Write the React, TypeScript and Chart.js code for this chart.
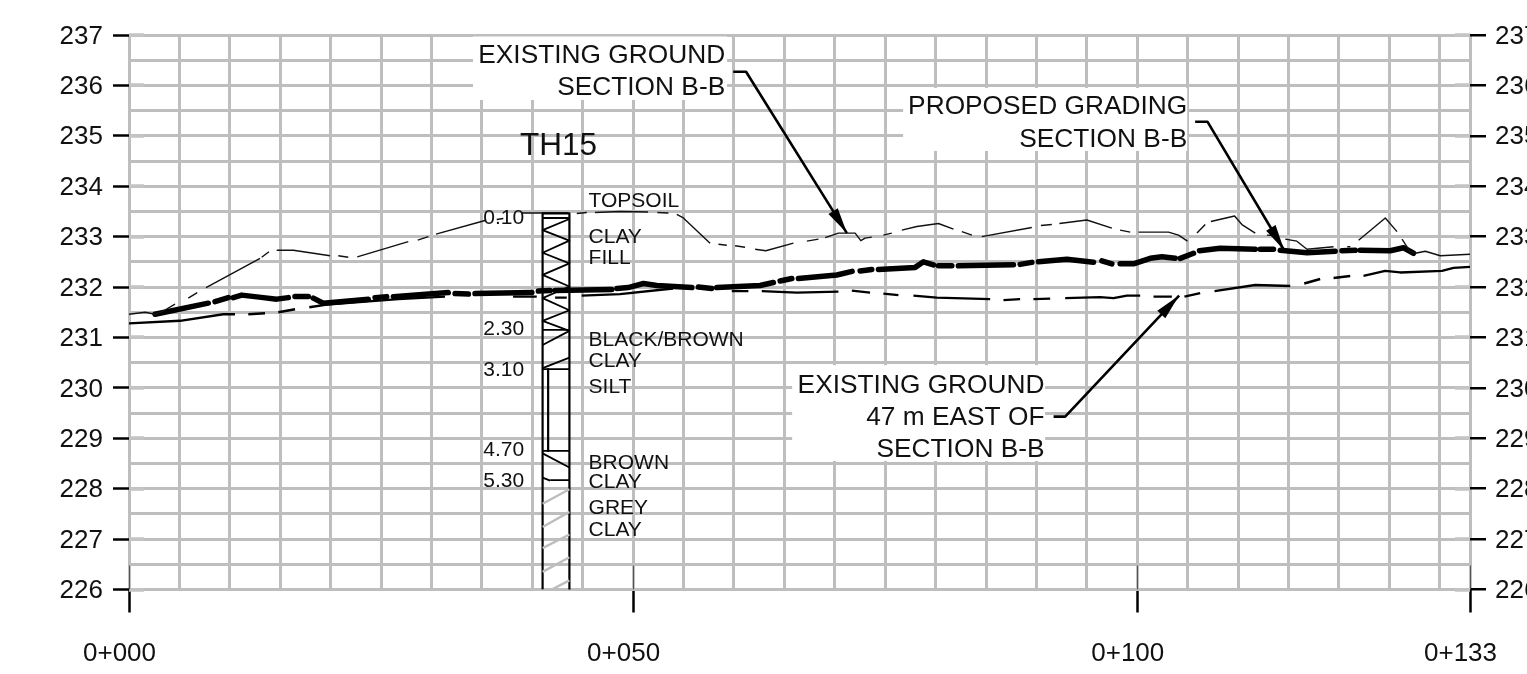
import React, { useEffect, useRef } from "react";
import { Chart, registerables } from "chart.js";

Chart.register(...registerables);

const FONT = '"Liberation Sans", Arial, sans-serif';

const stationMin = 0;
const stationMax = 133;
const elevationMin = 226;
const elevationMax = 237;
const labelledStations = [0, 50, 100, 133];
const gridStations = [0, 5, 10, 15, 20, 25, 30, 35, 40, 45, 50, 55, 60, 65, 70, 75, 80, 85, 90, 95, 100, 105, 110, 115, 120, 125, 130, 133];

// Existing ground, section B-B (null = gap in the CAD dash pattern)
const sectionStations = [0, 1.6, 2.6, 3.37, 4.56, null, 5.88, 6.77, null, 7.64, 13.0, null, 13.16, 13.88, null, 14.65, 16.3, 19.94, null, 20.76, 21.75, null, 22.64, 27.7, null, 28.64, 29.69, null, 30.45, 35.31, null, 36.47, 37.13, null, 38.95, 43.55, null, 44.41, 45.4, null, 46.22, 48.7, 51.48, null, 52.4, 53.5, null, 54.33, 54.98, 57.63, null, 58.46, 59.29, null, 60.11, 61.1, null, 62.1, 63.16, 65.9, null, 67.23, 68.38, null, 69.04, 70.36, 72.02, 72.58, 73.0, 73.67, null, 74.82, 75.65, null, 76.65, 78.14, 80.28, 81.77, null, 82.6, 83.6, null, 84.58, 89.54, null, 90.44, 91.53, null, 92.28, 95.0, 97.48, null, 98.3, 99.3, null, 100.12, 103.1, 104.09, 104.98, null, 105.92, 106.74, null, 107.3, 109.65, 110.38, 111.7, null, 112.86, 113.52, null, 114.68, 115.83, 116.83, 119.47, null, 120.83, 121.13, null, 121.95, 124.6, 125.76, null, 126.26, 127.07, 127.57, 128.56, 130.06, 133];
const sectionElevations = [231.46, 231.5, 231.46, 231.52, 231.66, null, 231.78, 231.89, null, 231.99, 232.57, null, 232.59, 232.7, null, 232.73, 232.73, 232.62, null, 232.62, 232.59, null, 232.6, 232.9, null, 232.93, 233.0, null, 233.05, 233.32, null, 233.34, 233.36, null, 233.47, 233.47, null, 233.46, 233.48, null, 233.48, 233.5, 233.49, null, 233.48, 233.47, null, 233.44, 233.37, 232.87, null, 232.85, 232.83, null, 232.82, 232.79, null, 232.75, 232.72, 232.87, null, 232.91, 232.95, null, 232.98, 233.07, 233.07, 232.92, 232.97, 232.99, null, 233.03, 233.07, null, 233.13, 233.2, 233.26, 233.15, null, 233.1, 233.03, null, 233.0, 233.18, null, 233.22, 233.24, null, 233.26, 233.33, 233.17, null, 233.13, 233.09, null, 233.09, 233.09, 233.03, 232.91, null, 233.07, 233.24, null, 233.3, 233.41, 233.24, 233.07, null, 233.03, 233.02, null, 232.95, 232.91, 232.75, 232.8, null, 232.8, 232.8, null, 232.93, 233.37, 233.1, null, 232.95, 232.7, 232.67, 232.71, 232.62, 232.65];

// Existing ground, 47 m east of section B-B
const eastStations = [0, 5.06, 9.35, 10.51, null, 11.83, 13.49, null, 14.81, 16.47, null, 17.88, 19.94, 26.71, 31.34, null, 38.09, 40.44, null, 42.26, 43.42, null, 44.9, 48.7, 53.96, null, 59.78, 61.43, null, 62.76, 66.23, 70.36, null, 71.69, 73.5, null, 74.82, 76.31, null, 77.8, 80.12, 85.41, null, 86.73, 88.38, null, 89.7, 91.36, null, 92.85, 96.32, 97.64, 98.97, 100.29, null, 101.61, 103.43, null, 104.68, 106.24, null, 107.66, 111.7, 115.17, null, 116.56, 118.14, null, 119.47, 121.12, null, 122.44, 124.59, 126.08, 130.22, 131.37, 133];
const eastElevations = [231.28, 231.33, 231.46, 231.46, null, 231.46, 231.48, null, 231.5, 231.56, null, 231.6, 231.66, 231.76, 231.81, null, 231.81, 231.81, null, 231.79, 231.79, null, 231.83, 231.86, 231.97, null, 231.92, 231.92, null, 231.92, 231.89, 231.91, null, 231.93, 231.89, null, 231.87, 231.84, null, 231.83, 231.79, 231.76, null, 231.74, 231.76, null, 231.76, 231.77, null, 231.78, 231.8, 231.78, 231.83, 231.83, null, 231.81, 231.81, null, 231.81, 231.88, null, 231.92, 232.04, 232.02, null, 232.07, 232.16, null, 232.18, 232.22, null, 232.22, 232.32, 232.29, 232.32, 232.38, 232.4];

// Proposed grading, section B-B
const gradingStations = [2.58, 7.86, null, 8.53, 9.85, null, 10.34, 11.18, 13.32, 14.65, 15.8, null, 16.46, 17.78, null, 18.28, 19.27, 23.74, null, 24.4, 25.56, null, 26.22, 31.67, null, 32.34, 33.66, null, 34.32, 39.95, null, 40.6, 41.76, null, 42.26, 47.88, null, 48.4, 49.5, 51.02, 52.35, 55.82, null, 56.47, 57.8, null, 58.3, 62.59, 63.91, null, 64.58, 65.74, null, 66.39, 70.2, 71.72, null, 72.51, 73.67, null, 74.33, 77.97, 78.79, 79.78, null, 80.28, 81.61, null, 82.26, 87.72, null, 88.38, 89.54, null, 90.2, 93.02, 95.66, null, 96.49, 97.48, null, 98.3, 99.63, 101.28, 102.44, 103.76, null, 104.26, 105.58, null, 106.17, 108.22, 111.7, null, 112.19, 113.51, null, 114.18, 116.83, 119.63, null, 120.3, 121.62, null, 122.11, 125.09, 126.41, 127.4];
const gradingElevations = [231.46, 231.68, null, 231.71, 231.79, null, 231.79, 231.84, 231.79, 231.76, 231.79, null, 231.81, 231.81, null, 231.78, 231.68, 231.76, null, 231.79, 231.81, null, 231.81, 231.89, null, 231.87, 231.86, null, 231.87, 231.89, null, 231.92, 231.93, null, 231.93, 231.95, null, 231.97, 231.99, 232.07, 232.03, 231.99, null, 232.0, 231.97, null, 231.99, 232.03, 232.09, null, 232.12, 232.17, null, 232.17, 232.24, 232.31, null, 232.32, 232.35, null, 232.35, 232.39, 232.5, 232.44, null, 232.42, 232.42, null, 232.42, 232.44, null, 232.45, 232.49, null, 232.5, 232.55, 232.49, null, 232.52, 232.46, null, 232.46, 232.46, 232.57, 232.6, 232.57, null, 232.57, 232.67, null, 232.72, 232.77, 232.75, null, 232.75, 232.75, null, 232.73, 232.68, 232.71, null, 232.72, 232.73, null, 232.73, 232.72, 232.78, 232.67];

// Borehole TH15
const holeLeft = 41.02;
const holeRight = 43.68;
const holeInner = 41.57;
const holeSmall = 41.77;
const holeCut = 41.93;
const holeFrameStations = [holeLeft, holeLeft, holeRight, holeRight, null, holeInner, holeInner];
const holeFrameElevations = [226, 233.46, 233.46, 226, null, 230.37, 228.75];
const layerStations = [holeLeft, holeRight, null, holeLeft, holeRight, null, holeLeft, holeRight, null, holeLeft, holeRight, null, holeSmall, holeRight];
const layerElevations = [233.37, 233.37, null, 231.15, 231.15, null, 230.37, 230.37, null, 228.75, 228.75, null, 228.17, 228.17];
const zigzagStations = [holeRight, holeLeft, holeRight, holeLeft, holeRight, holeLeft, holeRight, holeLeft, holeRight, holeLeft, holeRight, holeLeft, null, holeRight, holeLeft, null, holeLeft, holeRight, null, holeLeft, holeSmall];
const zigzagElevations = [233.35, 233.13, 232.92, 232.68, 232.47, 232.24, 232.01, 231.78, 231.54, 231.33, 231.13, 230.85, null, 230.6, 230.39, null, 228.7, 228.42, null, 228.22, 228.16];
const greyHatchStations = [holeLeft, holeRight, null, holeLeft, holeRight, null, holeLeft, holeRight, null, holeLeft, holeRight, null, holeCut, holeRight];
const greyHatchElevations = [227.7, 227.99, null, 227.24, 227.54, null, 226.82, 227.09, null, 226.35, 226.64, null, 226.0, 226.18];

// Leaders: station / elevation, the last point is the arrow tip
const leaderStations = [
  [59.93, 61.2, 71.2],
  [105.74, 106.96, 114.57],
  [91.7, 92.85, 104.15],
];
const leaderElevations = [
  [236.27, 236.27, 233.07],
  [235.28, 235.28, 232.73],
  [229.43, 229.43, 231.83],
];

// White halo behind the callouts: station0, elevation0, station1, elevation1
const calloutMasks = [
  [34.12, 236.97, 59.32, 235.71],
  [76.78, 235.95, 104.95, 234.7],
  [65.77, 230.45, 90.86, 228.55],
];
// text, station, elevation
const calloutTexts: [string, number, number][] = [
  ["EXISTING GROUND", 59.13, 236.58],
  ["SECTION B-B", 59.13, 235.95],
  ["PROPOSED GRADING", 104.95, 235.57],
  ["SECTION B-B", 104.95, 234.93],
  ["EXISTING GROUND", 90.8, 230.05],
  ["47 m EAST OF", 90.8, 229.41],
  ["SECTION B-B", 90.8, 228.78],
];
const soilTexts: [string, number, number][] = [
  ["TOPSOIL", 45.58, 233.71],
  ["CLAY", 45.58, 232.98],
  ["FILL", 45.58, 232.58],
  ["BLACK/BROWN", 45.58, 230.94],
  ["CLAY", 45.58, 230.52],
  ["SILT", 45.58, 230.02],
  ["BROWN", 45.58, 228.51],
  ["CLAY", 45.58, 228.12],
  ["GREY", 45.58, 227.62],
  ["CLAY", 45.58, 227.17],
];
const depthTexts: [string, number, number][] = [
  ["0.10", 39.19, 233.37],
  ["2.30", 39.19, 231.16],
  ["3.10", 39.19, 230.35],
  ["4.70", 39.19, 228.76],
  ["5.30", 39.19, 228.15],
];
const boreholeName: [string, number, number] = ["TH15", 38.79, 234.79];

const GRID = "#bebebe";
const INK = "#111111";

const points = (xs: (number | null)[], ys: (number | null)[]) => xs.map((x, i) => ({ x, y: ys[i] }));

const series = (label: string, xs: (number | null)[], ys: (number | null)[], color: string, width: number, cap = "butt") => ({
  label,
  data: points(xs, ys),
  borderColor: color,
  borderWidth: width,
  pointRadius: 0,
  tension: 0,
  spanGaps: false,
  borderCapStyle: cap,
  borderJoinStyle: "round",
});

const markupPlugin = {
  id: "markup",
  beforeDatasetsDraw(chart: any) {
    const { ctx, scales, chartArea } = chart;
    const x = scales.x;
    const y = scales.y;
    ctx.save();
    ctx.fillStyle = "#ffffff";
    for (const [s0, e0, s1, e1] of calloutMasks) {
      const px = x.getPixelForValue(s0);
      const py = y.getPixelForValue(e0);
      ctx.fillRect(px, py, x.getPixelForValue(s1) - px, y.getPixelForValue(e1) - py);
    }
    // heavier stubs where the grid meets the frame at each whole metre
    ctx.strokeStyle = "#c4c4c4";
    ctx.lineWidth = 3.5;
    for (let e = elevationMin; e <= elevationMax; e++) {
      const py = Math.round(y.getPixelForValue(e));
      ctx.beginPath();
      ctx.moveTo(chartArea.left, py);
      ctx.lineTo(chartArea.left + 15, py);
      ctx.moveTo(chartArea.right - 15, py);
      ctx.lineTo(chartArea.right, py);
      ctx.stroke();
    }
    // thin dark extensions of the labelled station ticks
    ctx.strokeStyle = "#555555";
    ctx.lineWidth = 1;
    for (const s of labelledStations) {
      const px = Math.round(x.getPixelForValue(s));
      ctx.beginPath();
      ctx.moveTo(px + 0.5, chartArea.bottom - 24);
      ctx.lineTo(px + 0.5, chartArea.bottom);
      ctx.stroke();
    }
    ctx.restore();
  },
  afterDatasetsDraw(chart: any) {
    const { ctx, scales } = chart;
    const x = scales.x;
    const y = scales.y;
    ctx.save();
    ctx.fillStyle = INK;
    ctx.textBaseline = "middle";

    ctx.font = `26.3px ${FONT}`;
    ctx.textAlign = "right";
    for (const [t, s, e] of calloutTexts) ctx.fillText(t, x.getPixelForValue(s), y.getPixelForValue(e));

    ctx.font = `21px ${FONT}`;
    ctx.textAlign = "left";
    for (const [t, s, e] of soilTexts) ctx.fillText(t, x.getPixelForValue(s), y.getPixelForValue(e));
    ctx.textAlign = "right";
    for (const [t, s, e] of depthTexts) ctx.fillText(t, x.getPixelForValue(s), y.getPixelForValue(e));

    ctx.font = `31.5px ${FONT}`;
    ctx.textAlign = "left";
    ctx.fillText(boreholeName[0], x.getPixelForValue(boreholeName[1]), y.getPixelForValue(boreholeName[2]));

    // arrow heads at the end of each leader
    ctx.fillStyle = "#000000";
    leaderStations.forEach((xs, i) => {
      const ys = leaderElevations[i];
      const n = xs.length - 1;
      const tx = x.getPixelForValue(xs[n]);
      const ty = y.getPixelForValue(ys[n]);
      const ax = x.getPixelForValue(xs[n - 1]);
      const ay = y.getPixelForValue(ys[n - 1]);
      const a = Math.atan2(ty - ay, tx - ax);
      const len = 26;
      const half = 5.5;
      ctx.beginPath();
      ctx.moveTo(tx, ty);
      ctx.lineTo(tx - len * Math.cos(a) + half * Math.sin(a), ty - len * Math.sin(a) - half * Math.cos(a));
      ctx.lineTo(tx - len * Math.cos(a) - half * Math.sin(a), ty - len * Math.sin(a) + half * Math.cos(a));
      ctx.closePath();
      ctx.fill();
    });
    ctx.restore();
  },
};

export default function App() {
  const ref = useRef<HTMLCanvasElement | null>(null);

  useEffect(() => {
    if (!ref.current) return;
    const chart = new Chart(ref.current, {
      type: "line",
      data: {
        datasets: [
          series("Borehole grey hatch", greyHatchStations, greyHatchElevations, "#bdbdbd", 2.4),
          series("Borehole frame", holeFrameStations, holeFrameElevations, "#000000", 2.2),
          series("Borehole layers", layerStations, layerElevations, "#000000", 1.8),
          series("Borehole hatch", zigzagStations, zigzagElevations, "#000000", 1.8),
          series("Existing ground section B-B", sectionStations, sectionElevations, "#111111", 1.4),
          series("Existing ground 47 m east", eastStations, eastElevations, "#000000", 2.4),
          series("Proposed grading section B-B", gradingStations, gradingElevations, "#000000", 5.5, "round"),
          ...leaderStations.map((xs, i) => series(`Leader ${i + 1}`, xs, leaderElevations[i], "#000000", 2.6)),
        ] as any,
      },
      options: {
        animation: false,
        responsive: false,
        parsing: { xAxisKey: "x", yAxisKey: "y" },
        layout: { padding: { top: 35, left: 0, right: 0, bottom: 0 } },
        plugins: { legend: { display: false }, tooltip: { enabled: false }, title: { display: false } },
        scales: {
          x: {
            type: "linear",
            min: stationMin,
            max: stationMax,
            afterBuildTicks: (s: any) => {
              s.ticks = gridStations.map((value) => ({ value }));
            },
            afterFit: (s: any) => {
              s.height = 84.5;
              s.paddingLeft = 0;
              s.paddingRight = 0;
            },
            border: { display: false },
            grid: {
              color: GRID,
              lineWidth: 3,
              tickLength: 23,
              tickWidth: 2.5,
              tickColor: (c: any) => (labelledStations.includes(c.tick?.value) ? "#000000" : "rgba(0,0,0,0)"),
            },
            ticks: {
              autoSkip: false,
              maxRotation: 0,
              minRotation: 0,
              labelOffset: -9.5,
              padding: 26,
              color: INK,
              font: { family: FONT, size: 26 },
              callback: (v: any) => (labelledStations.includes(v) ? `0+${String(v).padStart(3, "0")}` : ""),
            },
          },
          y: {
            type: "linear",
            position: "left",
            min: elevationMin,
            max: elevationMax,
            afterBuildTicks: (s: any) => {
              const t = [];
              for (let i = 0; i <= (elevationMax - elevationMin) * 2; i++) t.push({ value: elevationMin + i / 2 });
              s.ticks = t;
            },
            afterFit: (s: any) => {
              s.width = 129;
              s.paddingTop = 0;
              s.paddingBottom = 0;
            },
            border: { display: false },
            grid: {
              color: GRID,
              lineWidth: 3,
              tickLength: 16,
              tickWidth: 2.5,
              tickColor: (c: any) => (Number.isInteger(c.tick?.value) ? "#000000" : "rgba(0,0,0,0)"),
            },
            ticks: {
              autoSkip: false,
              padding: 10,
              labelOffset: 1.5,
              color: INK,
              font: { family: FONT, size: 26 },
              callback: (v: any) => (Number.isInteger(v) ? String(v) : ""),
            },
          },
          right: {
            type: "linear",
            position: "right",
            min: elevationMin,
            max: elevationMax,
            afterBuildTicks: (s: any) => {
              const t = [];
              for (let i = elevationMin; i <= elevationMax; i++) t.push({ value: i });
              s.ticks = t;
            },
            afterFit: (s: any) => {
              s.width = 57;
              s.paddingTop = 0;
              s.paddingBottom = 0;
            },
            border: { display: false },
            grid: {
              drawOnChartArea: false,
              lineWidth: 2.5,
              tickLength: 16,
              tickWidth: 2.5,
              tickColor: "#000000",
            },
            ticks: {
              autoSkip: false,
              padding: 9,
              labelOffset: 1.5,
              color: INK,
              font: { family: FONT, size: 26 },
              callback: (v: any) => String(v),
            },
          },
        },
      } as any,
      plugins: [markupPlugin],
    });
    return () => chart.destroy();
  }, []);

  return (
    <canvas
      ref={ref}
      width={1527}
      height={674}
      style={{ position: "fixed", left: 0, top: 0, width: 1527, height: 674, background: "#ffffff" }}
    />
  );
}
